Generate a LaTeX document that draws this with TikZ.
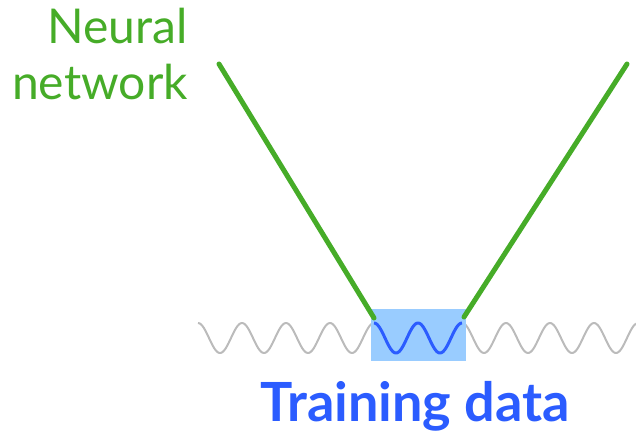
\documentclass[tikz,border=0pt]{standalone}
\usepackage{fontspec}
\setmainfont{Lato}
\usetikzlibrary{positioning}
\definecolor{netgreen}{HTML}{46AC28}
\definecolor{datablue}{HTML}{2B5CFF}
\definecolor{boxblue}{HTML}{99CCFF}
\definecolor{wavegrey}{HTML}{BBBBBB}
\tikzset{
	netline/.style={draw=netgreen, line width=5pt, line cap=round},
	wave/.style={line width=2pt, line join=round}
}

\begin{document}
\begin{tikzpicture}[x=1pt,y=-1pt]
\def\Per{44}
\def\Amp{15}
\def\Mid{338}
\def\Xo{198}
\useasboundingbox (0,0) rectangle (636,432);

%\node[draw, circle, fill=red, scale=0.2] at (\Xo,\Mid) {};
\draw[wave, wavegrey] plot[domain=\Xo:636, samples=300] (\x, {\Mid-\Amp*cos(360/\Per*(\x-\Xo))});
\fill[boxblue] (371,309) rectangle (466,361);
\draw[wave, datablue, line width=3pt] plot[domain=374:462, samples=100] (\x, {\Mid-\Amp*cos(360/\Per*(\x-\Xo))});

\coordinate (lefttop) at (219,64);
\coordinate (leftfoot) at (374,318);
\coordinate (rightfoot) at (464,317);
\coordinate (righttop) at (627,64);
\draw[netline] (lefttop) -- (leftfoot);
\draw[netline] (rightfoot) -- (righttop);

\node[anchor=north east, align=right, text=netgreen, inner sep=0pt,
	font={\fontsize{48}{56}\selectfont}] (net) at (188,8) {Neural\\network};
\node[anchor=base, text=datablue, inner sep=0pt,
	font={\fontsize{54}{56}\selectfont\bfseries}] (data) at (415,421) {Training data};
\end{tikzpicture}
\end{document}
